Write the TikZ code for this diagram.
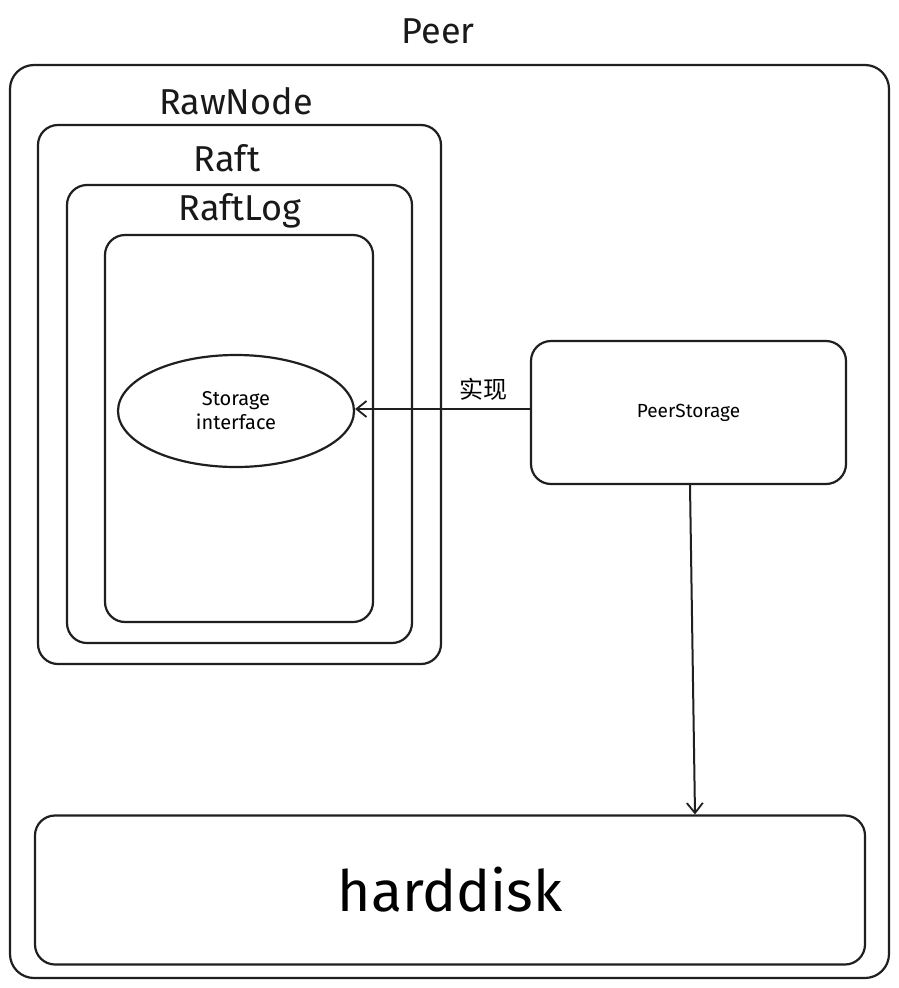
\documentclass[tikz,border=0pt]{standalone}
\usepackage{fontspec}
\setmainfont{Fira Sans}
\newfontfamily\cjk{Noto Sans CJK SC}
\usetikzlibrary{arrows.meta,shapes.geometric}
\begin{document}
\begin{tikzpicture}[x=1pt,y=-1pt,
  box/.style={draw=black!88,line width=2.2pt,rounded corners=20pt},
  lbl/.style={font=\fontsize{36}{40}\selectfont,text=black!90},
  conn/.style={draw=black!88,line width=2pt,-{Straight Barb[length=10pt,width=16pt,line width=1.8pt]}}]
\useasboundingbox (0,0) rectangle (898,988);
\fill[white] (0,0) rectangle (898,988);
% outer peer
\node[lbl] (peerlbl) at (438,31) {Peer};
\draw[box,rounded corners=24pt] (10,65) rectangle (889,978);
% RawNode
\node[lbl] (rawlbl) at (236,101) {RawNode};
\draw[box] (38,125) rectangle (441,664);
% Raft
\node[lbl] (raftlbl) at (227,158) {Raft};
\draw[box] (67,185) rectangle (412,643);
% RaftLog
\node[lbl] (raftloglbl) at (240,211) {RaftLog};
\draw[box] (105,235) rectangle (373,622);
% ellipse
\node[draw=black!88,line width=2.2pt,ellipse,minimum width=236pt,minimum height=112pt,
  align=center,font=\fontsize{20}{24}\selectfont] (iface) at (236,411) {Storage\\interface};
% PeerStorage
\node[box,minimum width=315pt,minimum height=143pt,font=\fontsize{19}{22}\selectfont] (ps) at (688.5,412.5) {PeerStorage};
% harddisk
\node[box,minimum width=830pt,minimum height=149pt,font=\fontsize{57}{60}\selectfont] (hd) at (450,890) {harddisk};
% connectors
\draw[conn] (ps.west |- 0,409) -- (iface.east |- 0,409);
\node[font=\cjk\fontsize{24}{26}\selectfont] (implbl) at (483,389) {实现};
\draw[conn] (ps.south -| 690,0) -- (hd.north -| 695,0);
\end{tikzpicture}
\end{document}
